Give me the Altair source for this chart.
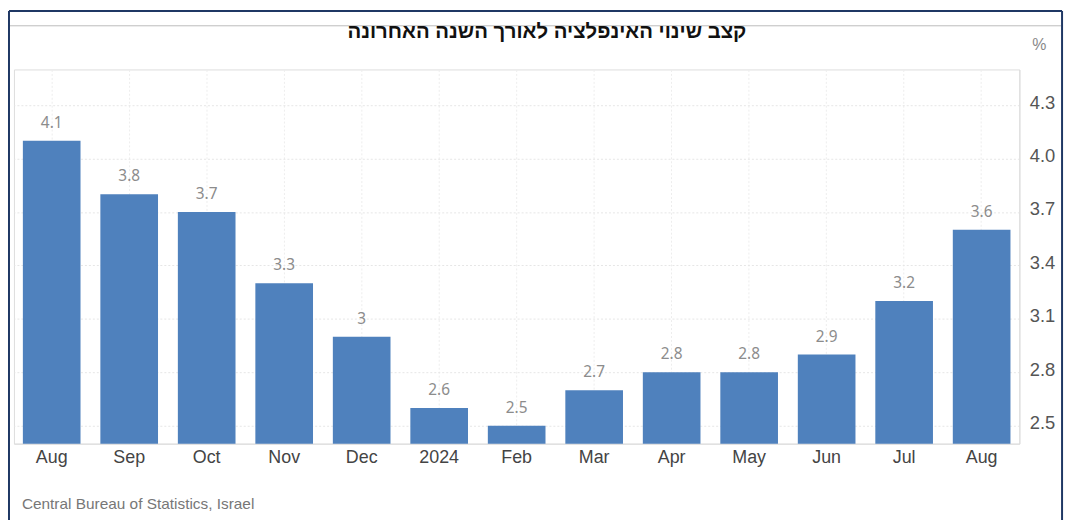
import json
import altair as alt
import pandas as pd

labels = ["Aug", "Sep", "Oct", "Nov", "Dec", "2024", "Feb", "Mar", "Apr", "May", "Jun", "Jul", "Aug"]
values = [4.1, 3.8, 3.7, 3.3, 3.0, 2.6, 2.5, 2.7, 2.8, 2.8, 2.9, 3.2, 3.6]
y_ticks = [2.5, 2.8, 3.1, 3.4, 3.7, 4.0, 4.3]
title_text = "קצב שינוי האינפלציה לאורך השנה האחרונה"
source_text = "Central Bureau of Statistics, Israel"
unit_text = "%"

df = pd.DataFrame({
    "i": list(range(len(labels))),
    "label": labels,
    "value": values,
    "text": [f"{v:g}" for v in values],
})

W, H = 1013, 377
BAR = "#4F81BD"

x = alt.X(
    "i:O", title=None,
    scale=alt.Scale(paddingInner=0.256, paddingOuter=0.115),
    axis=alt.Axis(
        labelExpr=f"{json.dumps(labels)}[datum.value]",
        labelAngle=0, labelFontSize=18, labelColor="#444444",
        labelFont="Liberation Sans", labelPadding=5, ticks=False,
        domainColor="#dddddd", grid=True, gridColor="#ededed",
        gridDash=[2, 2], bandPosition=0.5,
    ),
)
y = alt.Y(
    "value:Q", title=None,
    scale=alt.Scale(domain=[2.4, 4.5], nice=False, zero=False),
    axis=alt.Axis(
        orient="right", values=y_ticks, format=".1f",
        labelFontSize=18.5, labelColor="#555555", labelFont="Liberation Sans",
        labelPadding=10, labelOffset=-3, ticks=False,
        domainColor="#dddddd", gridColor="#e6e6e6", gridDash=[2, 2],
    ),
)

base = alt.Chart(df)
bars = base.mark_bar(color=BAR, clip=True).encode(x=x, y=y)
vals = base.mark_text(
    baseline="bottom", dy=-10, fontSize=15.5, color="#8c8c8c", font="Noto Sans"
).encode(x=x, y=y, text="text:N")

one = pd.DataFrame({"title": [title_text], "source": [source_text], "unit": [unit_text]})
oc = alt.Chart(one)
title = oc.mark_text(
    fontSize=20.5, fontWeight="bold", font="Liberation Sans", color="#111111",
    align="center", baseline="middle",
).encode(text="title:N", x=alt.value(537), y=alt.value(-38))
unit = oc.mark_text(
    fontSize=16, font="Liberation Sans", color="#888888", align="center", baseline="middle"
).encode(text="unit:N", x=alt.value(1033), y=alt.value(-25))
source = oc.mark_text(
    fontSize=15.5, font="Liberation Sans", color="#777777", align="left", baseline="middle"
).encode(text="source:N", x=alt.value(8), y=alt.value(438))

navy = "#1F3864"
left_b = oc.mark_rule(color=navy, strokeWidth=2).encode(
    x=alt.value(-5), y=alt.value(-59), y2=alt.value(470))
top_b = oc.mark_rule(color=navy, strokeWidth=2).encode(
    x=alt.value(-5), x2=alt.value(1056), y=alt.value(-59))
right_b = oc.mark_rule(color=navy, strokeWidth=2).encode(
    x=alt.value(1056), y=alt.value(-59), y2=alt.value(470))
grey_l = oc.mark_rule(color="#bbbbbb", strokeWidth=1).encode(
    x=alt.value(-4), x2=alt.value(1055), y=alt.value(-44))

chart = alt.layer(
    bars, vals, grey_l, title, unit, source, left_b, top_b, right_b
).properties(
    width=W, height=H,
    padding={"left": 6, "top": 60, "right": 50, "bottom": 75},
    autosize=alt.AutoSizeParams(type="none"),
).configure_view(stroke="#e8e8e8").configure(background="white")

chart.save("out.html", embed_options={"renderer": "svg", "actions": False})
